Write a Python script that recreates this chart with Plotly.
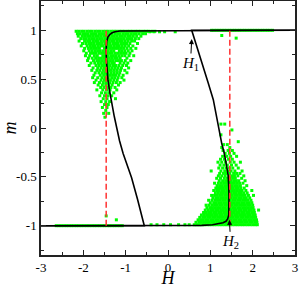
import plotly.graph_objects as go

# ---------------- data ----------------
# descending branch of the loop (from H=3 back to H=-3)
branch_dn_H = [3.0, -0.6, -0.9, -1.14, -1.25, -1.32, -1.38, -1.42, -1.45, -1.46, -1.455, -1.44, -1.42,
               -1.38, -1.33, -1.27, -1.21, -1.145, -1.06, -0.965, -0.86, -0.72, -0.58, -0.56, -3.0]
branch_dn_m = [1.0, 1.0, 0.998, 0.993, 0.985, 0.975, 0.955, 0.93, 0.88, 0.80, 0.70, 0.60, 0.50,
               0.38, 0.25, 0.12, 0.0, -0.13, -0.26, -0.38, -0.51, -0.73, -0.97, -1.0, -1.0]
# ascending branch of the loop (from H=-3 to H=3)
branch_up_H = [-3.0, 0.4, 0.8, 1.05, 1.19, 1.30, 1.37, 1.41, 1.435, 1.445, 1.44, 1.435, 1.42,
               1.38, 1.33, 1.27, 1.17, 1.07, 0.95, 0.83, 0.70, 0.575, 0.56, 3.0]
branch_up_m = [-1.0, -1.0, -0.997, -0.99, -0.98, -0.97, -0.955, -0.93, -0.89, -0.80, -0.70, -0.60, -0.48,
               -0.38, -0.26, -0.16, 0.06, 0.29, 0.46, 0.63, 0.81, 0.98, 1.0, 1.0]

# switching fields (dashed lines)
switch_H = [-1.46, 1.46]

# simulation points, upper-left cloud: one m value per row, H values per row
ul_m = [0.99, 0.965, 0.94, 0.915, 0.89, 0.865, 0.84, 0.815, 0.79, 0.765, 0.74, 0.715, 0.69, 0.665,
        0.64, 0.615, 0.59, 0.565, 0.54, 0.515, 0.49, 0.465, 0.44, 0.415, 0.39, 0.36, 0.33, 0.30,
        0.27, 0.24, 0.21, 0.18, 0.15, 0.11]
ul_H = [
    [-2.17, -2.11, -2.04, -1.98, -1.91, -1.85, -1.79, -1.72, -1.66, -1.60, -1.53, -1.47, -1.41, -1.34,
     -1.28, -1.22, -1.15, -1.09, -1.03, -0.96, -0.90, -0.84, -0.77, -0.71, -0.65, -0.58, -0.52, -0.46,
     -0.38, -0.31],
    [-2.14, -2.08, -2.01, -1.95, -1.89, -1.82, -1.76, -1.70, -1.63, -1.57, -1.51, -1.44, -1.38, -1.32,
     -1.25, -1.19, -1.13, -1.06, -1.00, -0.94, -0.87, -0.81, -0.75, -0.68, -0.60, -0.53],
    [-2.12, -2.03, -1.97, -1.90, -1.84, -1.78, -1.71, -1.65, -1.59, -1.52, -1.46, -1.40, -1.33, -1.27,
     -1.21, -1.14, -1.08, -1.02, -0.95, -0.89, -0.82, -0.74, -0.64],
    [-2.06, -1.99, -1.93, -1.86, -1.80, -1.74, -1.67, -1.61, -1.55, -1.48, -1.42, -1.36, -1.29, -1.23,
     -1.17, -1.10, -1.04, -0.97, -0.91, -0.85, -0.77, -0.69],
    [-2.10, -1.97, -1.90, -1.84, -1.77, -1.71, -1.65, -1.58, -1.52, -1.46, -1.39, -1.33, -1.27, -1.20,
     -1.14, -1.08, -1.01, -0.94, -0.86, -0.79],
    [-2.02, -1.94, -1.87, -1.81, -1.75, -1.68, -1.62, -1.56, -1.49, -1.43, -1.37, -1.30, -1.24, -1.18,
     -1.11, -1.05, -0.98, -0.90, -0.72],
    [-2.05, -1.91, -1.84, -1.78, -1.72, -1.65, -1.59, -1.53, -1.46, -1.40, -1.34, -1.27, -1.21, -1.15,
     -1.08, -1.01, -0.93, -0.83],
    [-1.97, -1.88, -1.81, -1.75, -1.69, -1.62, -1.50, -1.43, -1.37, -1.31, -1.24, -1.18, -1.12,
     -1.05, -0.97, -0.88, -0.76],
    [-1.99, -1.86, -1.79, -1.72, -1.66, -1.60, -1.53, -1.47, -1.41, -1.34, -1.28, -1.15, -1.09,
     -1.02, -0.94, -0.85],
    [-1.93, -1.83, -1.76, -1.70, -1.63, -1.57, -1.51, -1.44, -1.38, -1.32, -1.25, -1.19, -1.12, -1.05,
     -0.99, -0.90],
    [-1.95, -1.85, -1.74, -1.67, -1.54, -1.48, -1.42, -1.35, -1.29, -1.23, -1.16, -1.09, -1.02,
     -0.92, -0.81],
    [-1.88, -1.79, -1.71, -1.64, -1.58, -1.52, -1.45, -1.39, -1.33, -1.26, -1.20, -1.13, -0.97],
    [-1.90, -1.76, -1.68, -1.62, -1.55, -1.49, -1.43, -1.36, -1.30, -1.23, -1.17, -1.10, -1.01, -0.88],
    [-1.82, -1.73, -1.65, -1.59, -1.52, -1.46, -1.40, -1.33, -1.27, -1.13, -1.04, -0.95],
    [-1.86, -1.70, -1.63, -1.56, -1.50, -1.43, -1.37, -1.30, -1.24, -1.16, -1.07, -0.98],
    [-1.77, -1.66, -1.58, -1.51, -1.45, -1.39, -1.32, -1.25, -1.18, -1.10, -0.93],
    [-1.80, -1.68, -1.61, -1.53, -1.47, -1.40, -1.34, -1.27, -1.20, -1.12, -1.02],
    [-1.72, -1.63, -1.55, -1.48, -1.42, -1.35, -1.28, -1.21, -1.14, -0.97],
    [-1.75, -1.60, -1.52, -1.45, -1.38, -1.31, -1.24, -1.16, -1.06],
    [-1.78, -1.66, -1.56, -1.49, -1.41, -1.33, -1.26, -1.18, -1.09],
    [-1.70, -1.58, -1.50, -1.43, -1.36, -1.28, -1.20, -1.04],
    [-1.74, -1.62, -1.53, -1.46, -1.38, -1.30, -1.22, -1.13],
    [-1.65, -1.55, -1.47, -1.40, -1.32, -1.17],
    [-1.59, -1.51, -1.43, -1.35, -1.25],
    [-1.68, -1.54, -1.45, -1.37, -1.21],
    [-1.57, -1.48, -1.40, -1.28],
    [-1.61, -1.50, -1.42, -1.33],
    [-1.53, -1.44, -1.24],
    [-1.58, -1.47, -1.38],
    [-1.50, -1.41],
    [-1.55, -1.44],
    [-1.47],
    [-1.52, -1.40],
    [-1.49],
]

# simulation points, lower-right cloud
lr_m = [-0.99, -0.965, -0.94, -0.915, -0.89, -0.865, -0.84, -0.815, -0.79, -0.765, -0.74, -0.715,
        -0.69, -0.665, -0.64, -0.615, -0.59, -0.565, -0.54, -0.515, -0.49, -0.465, -0.44, -0.41,
        -0.38, -0.35, -0.32, -0.29, -0.26, -0.23, -0.20, -0.17, -0.14, -0.07, -0.02, 0.04]
lr_H = [
    [0.62, 0.68, 0.74, 0.80, 0.86, 0.92, 0.98, 1.04, 1.10, 1.16, 1.22, 1.28, 1.34, 1.40, 1.46, 1.52,
     1.58, 1.64, 1.70, 1.76, 1.82, 1.88, 1.94, 2.00, 2.06, 2.11],
    [0.66, 0.73, 0.79, 0.85, 0.91, 0.97, 1.03, 1.09, 1.15, 1.21, 1.27, 1.33, 1.39, 1.45, 1.51, 1.57,
     1.63, 1.69, 1.75, 1.81, 1.87, 1.93, 1.99, 2.05, 2.10],
    [0.71, 0.77, 0.83, 0.89, 0.95, 1.01, 1.07, 1.13, 1.19, 1.25, 1.31, 1.37, 1.43, 1.49, 1.55, 1.61,
     1.67, 1.73, 1.79, 1.85, 1.91, 1.97, 2.03, 2.09],
    [0.75, 0.82, 0.88, 0.94, 1.00, 1.06, 1.12, 1.18, 1.24, 1.30, 1.36, 1.42, 1.48, 1.54, 1.60, 1.66,
     1.72, 1.78, 1.84, 1.90, 1.96, 2.02, 2.07],
    [0.79, 0.86, 0.92, 0.98, 1.04, 1.10, 1.16, 1.22, 1.28, 1.34, 1.40, 1.46, 1.52, 1.58, 1.64, 1.70,
     1.76, 1.82, 1.88, 1.94, 2.00, 2.06],
    [0.84, 0.90, 0.96, 1.02, 1.08, 1.14, 1.20, 1.26, 1.32, 1.38, 1.44, 1.50, 1.56, 1.62, 1.68, 1.74,
     1.80, 1.86, 1.92, 1.98, 2.04],
    [0.88, 0.95, 1.01, 1.07, 1.13, 1.19, 1.25, 1.31, 1.37, 1.43, 1.49, 1.55, 1.61, 1.67, 1.73, 1.79,
     1.85, 1.91, 1.97, 2.03, 2.14],
    [0.92, 0.99, 1.05, 1.11, 1.17, 1.23, 1.29, 1.35, 1.41, 1.47, 1.53, 1.59, 1.65, 1.71, 1.77, 1.83,
     1.89, 1.95, 2.01],
    [0.90, 0.97, 1.04, 1.10, 1.16, 1.22, 1.28, 1.34, 1.40, 1.46, 1.52, 1.58, 1.64, 1.70, 1.76, 1.82,
     1.88, 1.94, 2.00],
    [1.00, 1.08, 1.14, 1.20, 1.26, 1.32, 1.38, 1.44, 1.50, 1.56, 1.62, 1.68, 1.74, 1.80, 1.86, 1.92, 1.98],
    [0.96, 1.04, 1.11, 1.17, 1.23, 1.29, 1.35, 1.41, 1.47, 1.53, 1.59, 1.65, 1.71, 1.77, 1.83, 1.89, 1.96],
    [1.06, 1.13, 1.19, 1.25, 1.31, 1.37, 1.43, 1.49, 1.55, 1.61, 1.67, 1.73, 1.79, 1.85, 1.93],
    [1.03, 1.10, 1.16, 1.22, 1.28, 1.34, 1.40, 1.46, 1.52, 1.58, 1.64, 1.70, 1.76, 1.82, 1.90, 2.02],
    [1.12, 1.19, 1.25, 1.31, 1.37, 1.43, 1.49, 1.55, 1.61, 1.67, 1.73, 1.79, 1.87],
    [1.08, 1.15, 1.21, 1.27, 1.33, 1.39, 1.45, 1.51, 1.57, 1.63, 1.69, 1.75, 1.84, 1.98],
    [1.13, 1.18, 1.24, 1.30, 1.36, 1.42, 1.48, 1.54, 1.60, 1.66, 1.72, 1.80],
    [1.16, 1.22, 1.28, 1.34, 1.40, 1.46, 1.52, 1.58, 1.64, 1.71, 1.86],
    [1.10, 1.19, 1.26, 1.32, 1.38, 1.44, 1.50, 1.56, 1.62, 1.69, 1.77],
    [1.21, 1.29, 1.36, 1.42, 1.48, 1.55, 1.61, 1.67, 1.82],
    [1.15, 1.24, 1.33, 1.40, 1.47, 1.53, 1.59, 1.74],
    [1.19, 1.27, 1.35, 1.44, 1.51, 1.57, 1.65, 1.79],
    [1.22, 1.31, 1.38, 1.46, 1.55, 1.62, 1.70],
    [1.02, 1.25, 1.34, 1.41, 1.49, 1.58, 1.75],
    [1.20, 1.29, 1.37, 1.45, 1.53, 1.66],
    [1.23, 1.32, 1.40, 1.50, 1.61],
    [1.18, 1.27, 1.36, 1.47, 1.56, 1.71],
    [1.24, 1.33, 1.43, 1.52],
    [1.29, 1.39, 1.48, 1.62],
    [1.35, 1.45, 1.56],
    [1.30, 1.42, 1.52],
    [1.27, 1.46],
    [1.31, 1.40],
    [1.66],
    [1.25],
    [1.51],
    [1.25, 1.34],
]

# points lying on the saturated plateaus and a few strays
edge_H = [1.03, 1.09, 1.15, 1.21, 1.27, 1.33, 1.39, 1.45, 1.51, 1.57, 1.63, 1.69, 1.75, 1.81, 1.87,
          1.93, 1.99, 2.05, 2.11, 2.17, 2.23, 2.29, 2.35, 2.41, 2.47,
          -0.43, -0.33, -0.20, -0.08, 0.17,
          -2.64, -2.58, -2.52, -2.46, -2.40, -2.34, -2.28, -2.22, -2.16, -2.10, -2.04, -1.98, -1.92,
          -1.86, -1.80, -1.74, -1.68, -1.62, -1.56, -1.50, -1.44, -1.38, -1.32, -1.26, -1.20, -1.14, -1.08,
          -0.40, -0.26, -0.10, 0.06, 0.25, 0.40, 0.50,
          1.27, 1.61, -1.46, -1.22]
edge_m = [1.0] * 25 + [0.985] * 5 + [-1.0] * 27 + [-0.99] * 7 + [0.947, 0.92, -0.90, -0.94]

# tick labels
x_ticks = [-3, -2, -1, 0, 1, 2, 3]
x_labels = ["-3", "-2", "-1", "0", "1", "2", "3"]
y_ticks = [-1, -0.5, 0, 0.5, 1]
y_labels = ["-1", "-0.5", "0", "0.5", "1"]

# ---------------- figure ----------------
def flatten(ms, hs):
    xs, ys = [], []
    for m, row in zip(ms, hs):
        for h in row:
            xs.append(h)
            ys.append(m)
    return xs, ys

ulx, uly = flatten(ul_m, ul_H)
lrx, lry = flatten(lr_m, lr_H)

GREEN = "#00ff00"
fig = go.Figure()
for xs, ys in [(ulx, uly), (lrx, lry), (edge_H, edge_m)]:
    fig.add_trace(go.Scatter(x=xs, y=ys, mode="markers",
                             marker=dict(symbol="square", size=3, color=GREEN, line=dict(width=0)),
                             hoverinfo="skip"))

fig.add_trace(go.Scatter(x=branch_dn_H, y=branch_dn_m, mode="lines",
                         line=dict(color="black", width=1.6)))
fig.add_trace(go.Scatter(x=branch_up_H, y=branch_up_m, mode="lines",
                         line=dict(color="black", width=1.6)))
for h in switch_H:
    fig.add_trace(go.Scatter(x=[h, h], y=[-1, 1], mode="lines",
                             line=dict(color="#ff3333", width=1.5, dash="6px,3px")))

SERIF = "Liberation Serif"
# H1 / H2 labels with arrows (label sits at the arrow tail)
fig.add_annotation(x=0.56, y=0.91, ax=0.53, ay=0.655, axref="x", ayref="y",
                   text="<i>H</i><sub>1</sub>", showarrow=True, arrowhead=2, arrowsize=1,
                   arrowwidth=1, arrowcolor="black", standoff=0, startstandoff=0,
                   font=dict(family=SERIF, size=15, color="black"))
fig.add_annotation(x=1.45, y=-0.94, ax=1.48, ay=-1.17, axref="x", ayref="y",
                   text="<i>H</i><sub>2</sub>", showarrow=True, arrowhead=2, arrowsize=1,
                   arrowwidth=1, arrowcolor="black", standoff=0, startstandoff=0,
                   font=dict(family=SERIF, size=15, color="black"))

axis_common = dict(showgrid=False, zeroline=False, showline=True, linewidth=1.5, linecolor="#222",
                   mirror="allticks", ticks="inside", ticklen=5, tickwidth=1, tickcolor="#222",
                   tickfont=dict(family=SERIF, size=13, color="black"))
fig.update_xaxes(range=[-3, 3], tickmode="array", tickvals=x_ticks, ticktext=x_labels,
                 minor=dict(tickmode="linear", tick0=0, dtick=0.5, ticks="inside", ticklen=3,
                            tickwidth=1, tickcolor="#222", showgrid=False),
                 title=dict(text="<i>H</i>", font=dict(family=SERIF, size=18, color="black"), standoff=4),
                 **axis_common)
fig.update_yaxes(range=[-1.3, 1.3], tickmode="array", tickvals=y_ticks, ticktext=y_labels,
                 minor=dict(tickmode="linear", tick0=0, dtick=0.25, ticks="inside", ticklen=3,
                            tickwidth=1, tickcolor="#222", showgrid=False),
                 title=dict(text="<i>m</i>", font=dict(family=SERIF, size=18, color="black"), standoff=6),
                 **axis_common)
fig.update_layout(width=300, height=288, margin=dict(l=41, r=5, t=1, b=33, autoexpand=False),
                  paper_bgcolor="white", plot_bgcolor="white", showlegend=False,
                  font=dict(family=SERIF, size=13, color="black"))
fig.write_html("out.html", config={"displayModeBar": False},
               post_script="document.body.style.margin='0';document.body.style.padding='0';")
